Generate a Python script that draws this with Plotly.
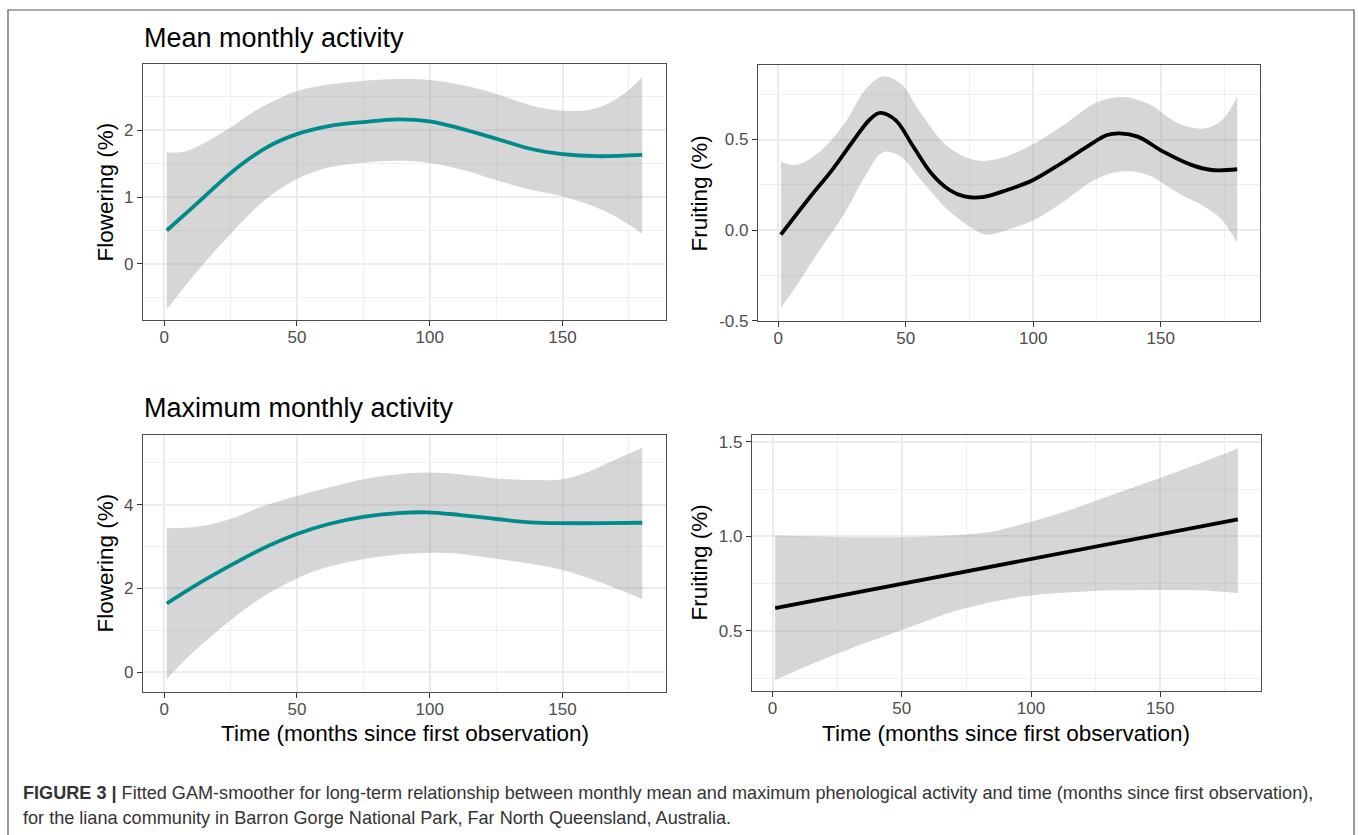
import plotly.graph_objects as go

W, H = 1358, 835
FONT = "Liberation Sans, Arial, Helvetica, sans-serif"

# ---------------- data ----------------
time_ticks = [0, 50, 100, 150]
time_minor = [25, 75, 125, 175]

# Panel 1: mean monthly flowering
p1_line_t = [1, 12, 26, 39, 50, 62, 75, 88, 100, 111, 126, 139, 150, 163, 180]
p1_line_v = [0.50, 0.89, 1.39, 1.75, 1.94, 2.06, 2.12, 2.16, 2.13, 2.03, 1.86, 1.71, 1.64, 1.61, 1.63]
p1_up_t = [1, 8, 23, 36, 50, 62, 85, 100, 114, 126, 139, 150, 162, 172, 180]
p1_up_v = [1.67, 1.68, 1.99, 2.33, 2.58, 2.68, 2.76, 2.75, 2.66, 2.53, 2.36, 2.29, 2.32, 2.51, 2.79]
p1_lo_t = [1, 12, 23, 36, 44, 50, 56, 62, 72, 85, 100, 114, 126, 139, 150, 163, 173, 180]
p1_lo_v = [-0.68, -0.13, 0.36, 0.89, 1.13, 1.27, 1.37, 1.44, 1.50, 1.54, 1.51, 1.39, 1.24, 1.10, 1.01,
           0.84, 0.64, 0.45]
p1_yticks = [0, 1, 2]
p1_yminor = [-0.5, 0.5, 1.5, 2.5]

# Panel 2: mean monthly fruiting
p2_line_t = [1, 12, 21, 29, 36, 40, 46, 53, 60, 67, 73, 80, 90, 100, 111, 121, 129, 134, 141, 151, 162, 170, 180]
p2_line_v = [-0.025, 0.175, 0.33, 0.485, 0.612, 0.647, 0.607, 0.46, 0.314, 0.223, 0.186, 0.182,
             0.223, 0.277, 0.369, 0.46, 0.525, 0.534, 0.516, 0.433, 0.36, 0.332, 0.336]
p2_up_t = [1, 7, 15.5, 26, 34, 41, 48, 56, 66.5, 77, 85, 97, 111, 124, 134.5, 145, 157, 167, 174, 180]
p2_up_v = [0.378, 0.36, 0.424, 0.589, 0.772, 0.849, 0.809, 0.644, 0.46, 0.387, 0.39, 0.452,
           0.57, 0.699, 0.735, 0.699, 0.589, 0.561, 0.607, 0.735]
p2_lo_t = [1, 7, 15.5, 26, 34, 41, 48, 56, 66.5, 77, 82, 90, 100.5, 111, 124, 134.5, 145, 157, 167, 174, 180]
p2_lo_v = [-0.428, -0.309, -0.125, 0.094, 0.296, 0.43, 0.406, 0.277, 0.113, 0.003, -0.025, 0.003,
           0.058, 0.149, 0.277, 0.323, 0.305, 0.204, 0.131, 0.058, -0.07]
p2_yticks = [-0.5, 0.0, 0.5]
p2_ytext = ["-0.5", "0.0", "0.5"]
p2_yminor = [-0.25, 0.25, 0.75]

# Panel 3: maximum monthly flowering
p3_line_t = [1, 12, 25, 36, 50, 62, 75, 88, 99, 111, 125, 138, 150, 166, 180]
p3_line_v = [1.64, 2.08, 2.55, 2.92, 3.30, 3.54, 3.71, 3.80, 3.82, 3.76, 3.66, 3.58, 3.56, 3.56, 3.57]
p3_up_t = [1, 13, 25, 36, 50, 62, 75, 88, 99, 111, 125, 138, 150, 159, 169, 180]
p3_up_v = [3.44, 3.48, 3.66, 3.94, 4.21, 4.41, 4.61, 4.73, 4.77, 4.73, 4.63, 4.59, 4.61, 4.77, 5.05, 5.36]
p3_lo_t = [1, 8, 20, 33, 42, 50, 56, 62, 75, 88, 99, 111, 125, 138, 150, 162.5, 172, 180]
p3_lo_v = [-0.17, 0.30, 0.98, 1.62, 1.98, 2.24, 2.40, 2.52, 2.70, 2.81, 2.85, 2.83, 2.71, 2.59, 2.44,
           2.19, 1.95, 1.75]
p3_yticks = [0, 2, 4]
p3_yminor = [1, 3, 5]

# Panel 4: maximum monthly fruiting
p4_line_t = [1, 180]
p4_line_v = [0.62, 1.09]
p4_up_t = [1, 48, 73, 85, 98, 115, 131.5, 148, 165, 180]
p4_up_v = [1.005, 0.995, 1.009, 1.026, 1.07, 1.14, 1.22, 1.30, 1.386, 1.465]
p4_lo_t = [1, 23, 50, 73, 98, 123, 148, 165, 180]
p4_lo_v = [0.24, 0.368, 0.504, 0.614, 0.684, 0.71, 0.716, 0.714, 0.70]
p4_yticks = [0.5, 1.0, 1.5]
p4_ytext = ["0.5", "1.0", "1.5"]
p4_yminor = [0.25, 0.75, 1.25]

TEAL = "#008B8B"
BLACK = "#000000"
RIBBON = "rgba(153,153,153,0.4)"

# ---------------- figure ----------------
fig = go.Figure()


def add_panel(n, lt, lv, lot, lov, upt, upv, color):
    xa = "x" if n == 1 else f"x{n}"
    ya = "y" if n == 1 else f"y{n}"
    fig.add_trace(go.Scatter(x=lot, y=lov, xaxis=xa, yaxis=ya, mode="lines",
                             line=dict(width=0, shape="spline", smoothing=1.0),
                             hoverinfo="skip", showlegend=False))
    fig.add_trace(go.Scatter(x=upt, y=upv, xaxis=xa, yaxis=ya, mode="lines",
                             line=dict(width=0, shape="spline", smoothing=1.0),
                             fill="tonexty", fillcolor=RIBBON,
                             hoverinfo="skip", showlegend=False))
    fig.add_trace(go.Scatter(x=lt, y=lv, xaxis=xa, yaxis=ya, mode="lines",
                             line=dict(color=color, width=3.8, shape="spline", smoothing=1.0),
                             showlegend=False))


add_panel(1, p1_line_t, p1_line_v, p1_lo_t, p1_lo_v, p1_up_t, p1_up_v, TEAL)
add_panel(2, p2_line_t, p2_line_v, p2_lo_t, p2_lo_v, p2_up_t, p2_up_v, BLACK)
add_panel(3, p3_line_t, p3_line_v, p3_lo_t, p3_lo_v, p3_up_t, p3_up_v, TEAL)
add_panel(4, p4_line_t, p4_line_v, p4_lo_t, p4_lo_v, p4_up_t, p4_up_v, BLACK)

VS = 1.012  # small vertical compensation of the page photograph


def px(x):
    return x / W


def py(y):
    return 1 - y * VS / H


common = dict(
    showgrid=True, gridcolor="#EBEBEB", gridwidth=1.6,
    ticks="outside", ticklen=5, tickwidth=1.4, tickcolor="#333333",
    showline=True, linecolor="#4D4D4D", linewidth=1.2, mirror=True,
    zeroline=False, tickfont=dict(size=17, color="#4D4D4D", family=FONT),
)
minor_style = dict(showgrid=True, gridcolor="#EFEFEF", gridwidth=1.0, ticks="")


def xaxis(l, r, t, b, anchor):
    return dict(domain=[px(l), px(r)], anchor=anchor, range=[-7.95, 188.95],
                tickvals=time_ticks, ticklabelstandoff=-4,
                minor=dict(tickvals=time_minor, **minor_style), **common)


def yaxis(l, r, t, b, anchor, rng, ticks, minor, text=None):
    d = dict(domain=[py(b), py(t)], anchor=anchor, range=rng, tickvals=ticks,
             minor=dict(tickvals=minor, **minor_style), **common)
    if text is not None:
        d["ticktext"] = text
    return d


boxes = {
    1: (143, 666, 62, 319),
    2: (758, 1260, 63, 320),
    3: (143, 666, 434, 692),
    4: (752, 1261, 434, 691),
}

fig.update_layout(
    xaxis=xaxis(*boxes[1], "y"),
    yaxis=yaxis(*boxes[1], "x", [-0.84, 2.99], p1_yticks, p1_yminor),
    xaxis2=xaxis(*boxes[2], "y2"),
    yaxis2=yaxis(*boxes[2], "x2", [-0.502, 0.912], p2_yticks, p2_yminor, p2_ytext),
    xaxis3=xaxis(*boxes[3], "y3"),
    yaxis3=yaxis(*boxes[3], "x3", [-0.48, 5.67], p3_yticks, p3_yminor),
    xaxis4=xaxis(*boxes[4], "y4"),
    yaxis4=yaxis(*boxes[4], "x4", [0.18, 1.537], p4_yticks, p4_yminor, p4_ytext),
)

annotations = []


def ann(text, x, y, size, color="#000000", xanchor="center", yanchor="middle", angle=0):
    annotations.append(dict(text=text, x=px(x), y=py(y), xref="paper", yref="paper",
                            xanchor=xanchor, yanchor=yanchor, showarrow=False, textangle=angle,
                            font=dict(size=size, color=color, family=FONT)))


ann("Mean monthly activity", 142, 36, 27, xanchor="left")
ann("Maximum monthly activity", 142, 407, 27, xanchor="left")

ann("Flowering (%)", 106, 191, 22.5, angle=-90)
ann("Fruiting (%)", 700, 192, 22.5, angle=-90)
ann("Flowering (%)", 106, 563, 22.5, angle=-90)
ann("Fruiting (%)", 700, 562, 22.5, angle=-90)

ann("Time (months since first observation)", 404.5, 733, 22.5)
ann("Time (months since first observation)", 1006, 733, 22.5)

ann("<b>FIGURE 3 |</b> Fitted GAM-smoother for long-term relationship between monthly mean and maximum "
    "phenological activity and time (months since first observation),", 21, 793, 18.1,
    color="#333333", xanchor="left")
ann("for the liana community in Barron Gorge National Park, Far North Queensland, Australia.",
    21, 818, 18.1, color="#333333", xanchor="left")

fig.update_layout(
    annotations=annotations,
    shapes=[dict(type="rect", xref="paper", yref="paper",
                 x0=px(8), x1=px(1354), y0=py(8), y1=py(850),
                 line=dict(color="#555555", width=1.2), fillcolor="rgba(0,0,0,0)", layer="above")],
    width=W, height=H,
    margin=dict(l=0, r=0, t=0, b=0),
    paper_bgcolor="white", plot_bgcolor="white",
    showlegend=False,
    font=dict(family=FONT),
)

fig.write_html("out.html")
